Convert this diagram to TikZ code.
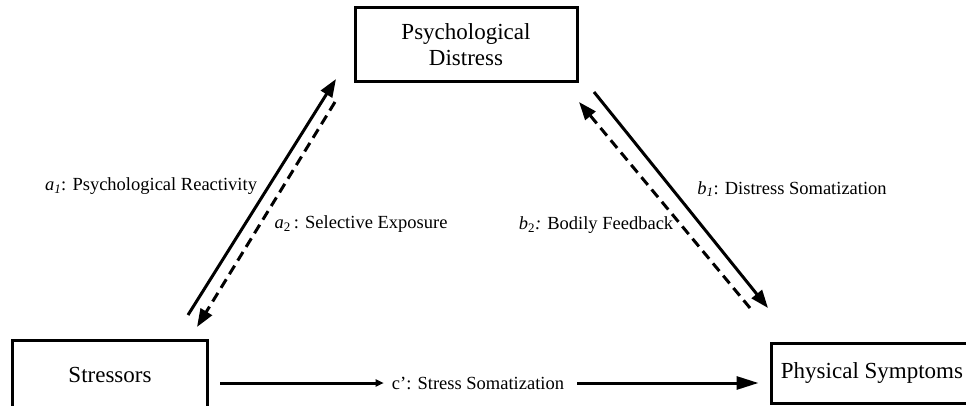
\documentclass[tikz,border=0pt]{standalone}
\usepackage{fontspec}
\setmainfont{Liberation Serif}
\usetikzlibrary{positioning, arrows.meta, calc}
\begin{document}
\begin{tikzpicture}[x=1pt,y=-1pt,
    box/.style={draw, line width=3pt, align=center, inner sep=0pt, font=\fontsize{23}{26}\selectfont},
    lbl/.style={inner sep=0pt, font=\fontsize{18.5}{21}\selectfont},
    link/.style={line width=3pt, -{Triangle[length=18pt,width=13pt]}},
    dlink/.style={link, dash pattern=on 10pt off 6pt},
    minilink/.style={line width=3pt, -{Triangle[length=8pt,width=7pt]}}]
  \path[use as bounding box, clip] (0,0) rectangle (966,406);
  % boxes
  \node[box, minimum width=222pt, minimum height=74pt] (distress) at (466,45) {Psychological\\Distress};
  \node[box, minimum width=195pt, minimum height=70pt] (stressors) at (110,375) {Stressors};
  \node[box, minimum width=202pt, minimum height=60pt] (symptoms) at (872,373) {Physical Symptoms};
  % end points of the slanted paths
  \coordinate (a1s) at (188,315);
  \coordinate (a1e) at (336,79);
  \coordinate (a2s) at (335,102);
  \coordinate (a2e) at (197,327);
  \coordinate (b1s) at (594,92);
  \coordinate (b1e) at (768,308);
  \coordinate (b2s) at (750,308);
  \coordinate (b2e) at (579,102);
  \draw[link] (a1s) -- (a1e);
  \draw[dlink] (a2s) -- (a2e);
  \draw[link] (b1s) -- (b1e);
  \draw[dlink] (b2s) -- (b2e);
  % labels
  \node[lbl] (a1) at (151,186) {\textit{a}\textsubscript{\textit{1}}: Psychological Reactivity};
  \node[lbl] (a2) at (361,224) {\textit{a}\textsubscript{2}\,: Selective Exposure};
  \node[lbl] (b1) at (792,189) {\textit{b}\textsubscript{\textit{1}}: Distress Somatization};
  \node[lbl] (b2) at (596,225) {\textit{b}\textsubscript{2}\textit{:} Bodily Feedback};
  \node[lbl] (c) at (478,383) {c’: Stress Somatization};
  % direct path
  \draw[minilink, shorten <=11pt, shorten >=8pt] (stressors.east |- c.west) -- (c.west);
  \draw[link, -{Triangle[length=22pt,width=13pt]}, shorten <=13pt, shorten >=11pt] (c.east) -- (symptoms.west |- c.east);
\end{tikzpicture}
\end{document}
